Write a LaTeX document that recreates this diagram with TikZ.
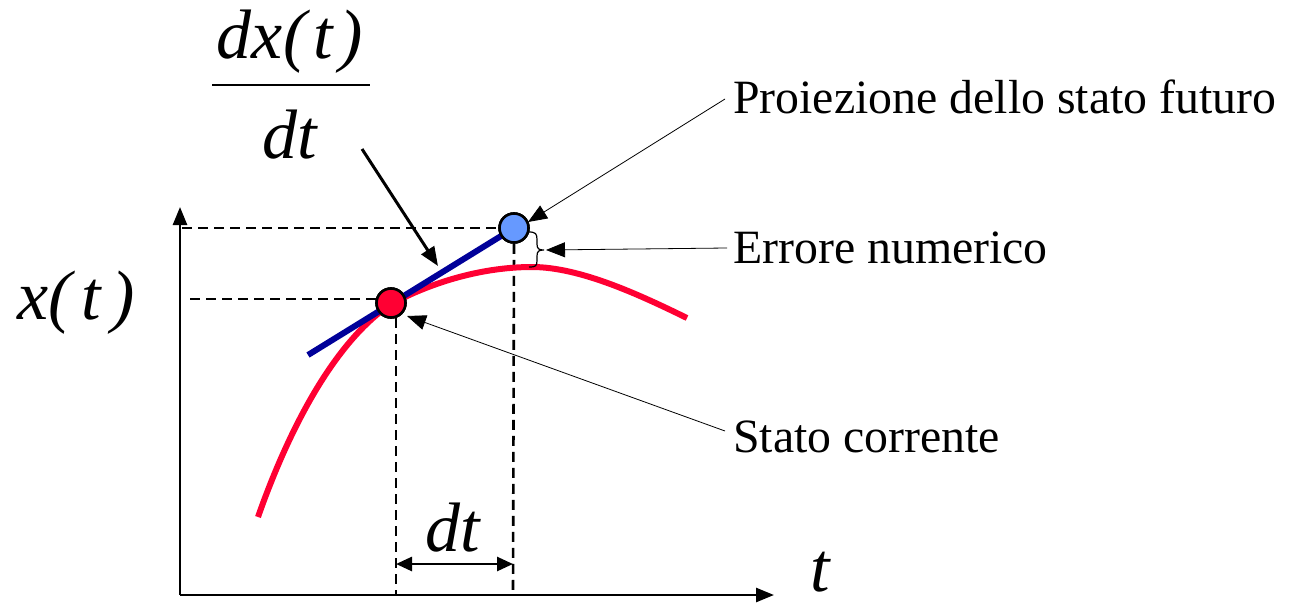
\documentclass[tikz,border=0pt]{standalone}
\usepackage{fontspec}
\setmainfont{Liberation Serif}
\usetikzlibrary{arrows.meta}
\definecolor{curvered}{HTML}{FF0033}
\definecolor{tanblue}{HTML}{000099}
\definecolor{ptblue}{HTML}{6699FF}
\begin{document}
\begin{tikzpicture}[x=1pt,y=-1pt,
  axis/.style={line width=2.6pt,-{Triangle[length=18pt,width=14pt]}},
  guide/.style={line width=2.6pt,dash pattern=on 10pt off 6pt},
  thinarrow/.style={line width=0.8pt,-{Triangle[length=19pt,width=15pt]}},
  ptnode/.style={circle,draw=black,line width=2.6pt,minimum size=29pt,inner sep=0pt},
  lbl/.style={font=\fontsize{47.8}{56}\selectfont,anchor=west,inner sep=0pt},
  mathlbl/.style={font=\fontsize{70}{80}\selectfont\itshape,inner sep=0pt}]
\useasboundingbox (0,0) rectangle (1297,602);
% axes
\coordinate (O) at (180,595);
\coordinate (ytip) at (180,207);
\coordinate (xtip) at (774,595);
\draw[axis] (O) -- (ytip);
\draw[axis] (O) -- (xtip);
% points
\node[ptnode,fill=curvered] (cur) at (391,303) {};
\node[ptnode,fill=ptblue] (fut) at (514,228) {};
% dashed guides
\coordinate (yfut) at (182,228);
\coordinate (ycur) at (190,299);
\coordinate (ycurend) at (377,299);
\coordinate (xcurtop) at (396,318);
\coordinate (xcur) at (396,595);
\coordinate (xfut) at (513,595);
\draw[guide] (yfut) -- (fut.west);
\draw[guide] (ycur) -- (ycurend);
\draw[guide] (xcurtop) -- (xcur);
\draw[guide] (fut.south) -- (xfut);
% red curve
\draw[curvered,line width=6pt] (258,517) .. controls (285,440) and (330,345) .. (391,304)
  .. controls (440,278) and (490,267) .. (532,267) .. controls (580,267) and (640,295) .. (687,318);
% tangent line
\coordinate (tanstart) at (308,355);
\draw[tanblue,line width=6pt] (tanstart) -- (fut.center);
\node[ptnode,fill=curvered] at (cur) {};
\node[ptnode,fill=ptblue] at (fut) {};
% brace
\coordinate (bt) at (546,250);
\draw[line width=1.2pt] (529,232) .. controls (536,232) and (537,234) .. (537,240)
  -- (537,244) .. controls (537,249) and (539,250) .. (544,250)
  .. controls (539,250) and (537,251) .. (537,256) -- (537,260)
  .. controls (537,266) and (536,267) .. (529,267);
% dt arrow
\coordinate (dtl) at (396,564);
\coordinate (dtr) at (513,564);
\draw[line width=2.6pt,{Triangle[length=16pt,width=14pt]}-{Triangle[length=16pt,width=14pt]}] (dtl) -- (dtr);
% labels
\node[lbl] (proj) at (733,97) {Proiezione dello stato futuro};
\node[lbl] (err) at (733,248) {Errore numerico};
\node[lbl] (stato) at (733,437) {Stato corrente};
\draw[thinarrow] (proj.west) ++(-8,2) coordinate (pa) (pa) -- (528,222);
\draw[thinarrow] (err.west) ++(-6,0) coordinate (ea) (ea) -- (bt);
\draw[thinarrow] (stato.west) ++(-8,-6) coordinate (sa) (sa) -- (407,316);
% math labels
\node[mathlbl] (xt) at (76,303) {x(\kern0.14em t\kern0.14em)};
\node[mathlbl] (tl) at (820,572) {t};
\node[mathlbl] (dtlbl) at (453,528) {dt};
\node[mathlbl] (num) at (290,42) {dx(\kern0.1em t\kern0.1em)};
\draw[line width=2.6pt] (212,85) -- (370,85);
\node[mathlbl] (den) at (290,135) {dt};
\coordinate (deriv) at (362,149);
\coordinate (derivend) at (438,266);
\draw[line width=3pt,-{Triangle[length=19pt,width=15pt]}] (deriv) -- (derivend);
\end{tikzpicture}
\end{document}
